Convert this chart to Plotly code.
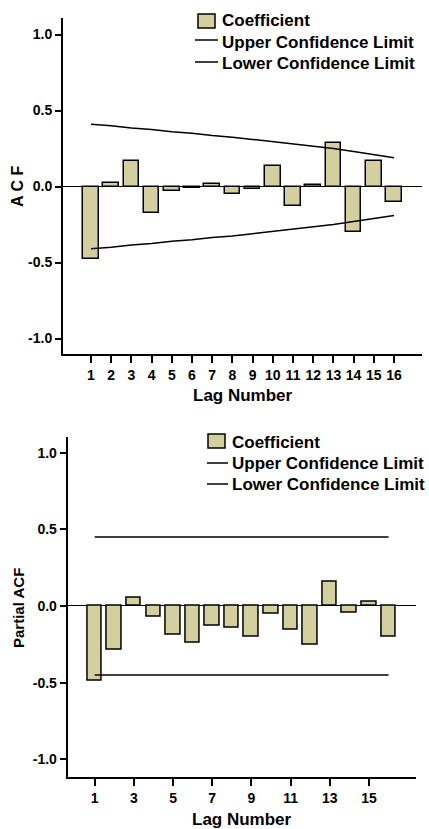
import plotly.graph_objects as go

W, H = 429, 829

# ---------------- data ----------------
lags = list(range(1, 17))
acf_coef = [-0.48, 0.02, 0.17, -0.175, -0.03, -0.01, 0.015, -0.05,
            -0.015, 0.135, -0.13, 0.01, 0.287, -0.296, 0.17, -0.105]
acf_upper = [0.41, 0.40, 0.385, 0.375, 0.36, 0.35, 0.335, 0.325,
             0.31, 0.295, 0.28, 0.265, 0.25, 0.23, 0.21, 0.19]
acf_lower = [-0.41, -0.40, -0.385, -0.375, -0.36, -0.35, -0.335, -0.325,
             -0.31, -0.295, -0.28, -0.265, -0.25, -0.23, -0.21, -0.19]

pacf_coef = [-0.49, -0.283, 0.054, -0.07, -0.187, -0.237, -0.126, -0.139,
             -0.2, -0.052, -0.157, -0.25, 0.157, -0.041, 0.031, -0.2]
pacf_upper = [0.45] * 16
pacf_lower = [-0.45] * 16

y_tickvals = [-1.0, -0.5, 0.0, 0.5, 1.0]
y_ticktext = ["-1.0", "-0.5", "0.0", "0.5", "1.0"]
acf_xticks = lags
pacf_xticks = [1, 3, 5, 7, 9, 11, 13, 15]

legend_labels = ["Coefficient", "Upper Confidence Limit", "Lower Confidence Limit"]

# ---------------- style ----------------
BAR = "#d4cf9f"
FONT = "Liberation Sans, Arial, sans-serif"

def px_x(p):
    return p / W

def px_y(p):
    return 1 - p / H

fig = go.Figure()

# top ACF
fig.add_trace(go.Bar(x=lags, y=acf_coef, width=0.77, marker=dict(color=BAR, line=dict(color="black", width=1.5)),
                     xaxis="x", yaxis="y", showlegend=False, name=legend_labels[0]))
fig.add_trace(go.Scatter(x=lags, y=acf_upper, mode="lines", line=dict(color="black", width=1.5),
                         xaxis="x", yaxis="y", showlegend=False, name=legend_labels[1]))
fig.add_trace(go.Scatter(x=lags, y=acf_lower, mode="lines", line=dict(color="black", width=1.5),
                         xaxis="x", yaxis="y", showlegend=False, name=legend_labels[2]))

# bottom PACF
fig.add_trace(go.Bar(x=lags, y=pacf_coef, width=0.74, marker=dict(color=BAR, line=dict(color="black", width=1.5)),
                     xaxis="x2", yaxis="y2", showlegend=False, name=legend_labels[0]))
fig.add_trace(go.Scatter(x=lags, y=pacf_upper, mode="lines", line=dict(color="black", width=1.5),
                         xaxis="x2", yaxis="y2", showlegend=False, name=legend_labels[1]))
fig.add_trace(go.Scatter(x=lags, y=pacf_lower, mode="lines", line=dict(color="black", width=1.5),
                         xaxis="x2", yaxis="y2", showlegend=False, name=legend_labels[2]))

tickfont = dict(family=FONT, size=14, color="black", weight="bold")

def xax(domain, rng, ticks, anchor):
    return dict(domain=domain, range=rng, tickvals=ticks, ticktext=[str(t) for t in ticks],
                showline=True, linecolor="black", linewidth=2, ticks="outside", ticklen=7,
                tickwidth=1.5, tickcolor="black", showgrid=False, zeroline=False,
                tickfont=tickfont, anchor=anchor, fixedrange=True)

def yax(domain, rng, anchor):
    return dict(domain=domain, range=rng, tickvals=y_tickvals, ticktext=y_ticktext,
                showline=True, linecolor="black", linewidth=2, ticks="outside", ticklen=6,
                tickwidth=1.5, tickcolor="black", showgrid=False, zeroline=True,
                zerolinecolor="black", zerolinewidth=1.2, tickfont=tickfont, anchor=anchor,
                fixedrange=True)

fig.update_layout(
    width=W, height=H,
    margin=dict(l=0, r=0, t=0, b=0),
    paper_bgcolor="white", plot_bgcolor="white",
    bargap=0,
    xaxis=xax([px_x(63), px_x(421.7)], [-0.386, 17.37], acf_xticks, "y"),
    yaxis=yax([px_y(354), px_y(18)], [-1.102, 1.109], "x"),
    xaxis2=xax([px_x(67.7), px_x(416)], [-0.378, 17.4], pacf_xticks, "y2"),
    yaxis2=yax([px_y(776.7), px_y(436.7)], [-1.1135, 1.104], "x2"),
)

shapes = []
annotations = []

def legend(sq, line_x, line_ys, text_x, text_ys):
    # coefficient swatch
    shapes.append(dict(type="rect", xref="paper", yref="paper",
                       x0=px_x(sq[0]), x1=px_x(sq[1]), y0=px_y(sq[3]), y1=px_y(sq[2]),
                       fillcolor=BAR, line=dict(color="black", width=1.5)))
    for ly in line_ys:
        shapes.append(dict(type="line", xref="paper", yref="paper",
                           x0=px_x(line_x[0]), x1=px_x(line_x[1]), y0=px_y(ly), y1=px_y(ly),
                           line=dict(color="black", width=1.5)))
    for lbl, ty in zip(legend_labels, text_ys):
        annotations.append(dict(text=lbl, xref="paper", yref="paper", x=px_x(text_x), y=px_y(ty),
                                xanchor="left", yanchor="middle", showarrow=False,
                                font=dict(family=FONT, size=17, color="black", weight="bold")))

legend((198, 215, 14, 28), (195, 218), (40, 62), 220, (21, 42, 63))
legend((208, 225, 434, 448), (207, 228), (463, 484), 230, (442, 463.5, 484))

titlefont = dict(family=FONT, size=17, color="black", weight="bold")
annotations += [
    dict(text="Lag Number", xref="paper", yref="paper", x=px_x(243), y=px_y(396),
         xanchor="center", yanchor="middle", showarrow=False, font=titlefont),
    dict(text="Lag Number", xref="paper", yref="paper", x=px_x(242), y=px_y(819),
         xanchor="center", yanchor="middle", showarrow=False, font=titlefont),
    dict(text="A C F", xref="paper", yref="paper", x=px_x(17), y=px_y(187), textangle=-90,
         xanchor="center", yanchor="middle", showarrow=False,
         font=dict(family=FONT, size=16, color="black", weight="bold")),
    dict(text="Partial ACF", xref="paper", yref="paper", x=px_x(18), y=px_y(608), textangle=-90,
         xanchor="center", yanchor="middle", showarrow=False,
         font=dict(family=FONT, size=15, color="black", weight="bold")),
]

fig.update_layout(shapes=shapes, annotations=annotations)

fig.write_html("out.html", config={"displayModeBar": False},
               post_script="document.body.style.margin='0';document.body.style.overflow='hidden';")
